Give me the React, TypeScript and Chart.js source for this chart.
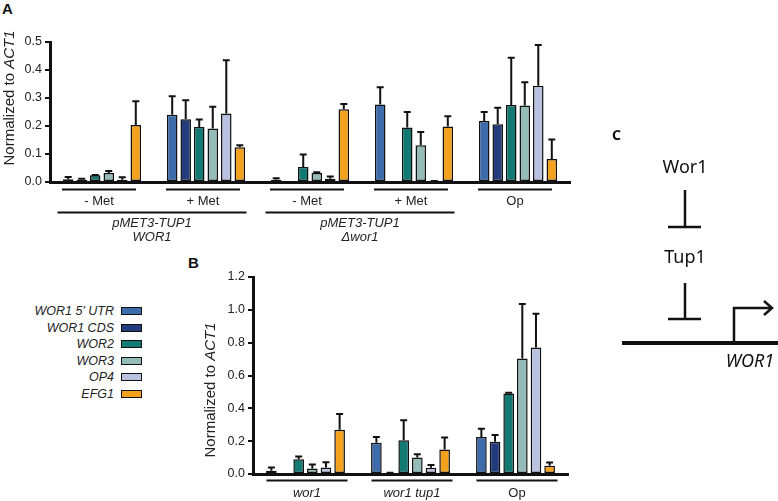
import React, { useEffect, useRef } from "react";
import { Chart, registerables } from "chart.js";

Chart.register(...registerables);

const FONT = '"Liberation Sans", Arial, Helvetica, sans-serif';
const INK = "#111";

// Series (genes) and colours
const SERIES = ["WOR1 5' UTR", "WOR1 CDS", "WOR2", "WOR3", "OP4", "EFG1"];
const COLORS = ["#3c6cab", "#233c7b", "#137a73", "#94bcb8", "#b9c2de", "#f4a21e"];

// Panel A
const A_GROUPS = ["- Met", "+ Met", "- Met", "+ Met", "Op"];
const A_SUPER = [
  { lines: ["pMET3-TUP1", "WOR1"], from: 0, to: 1 },
  { lines: ["pMET3-TUP1", "\u0394wor1"], from: 2, to: 3 },
];
const A_TICKS = [0, 0.1, 0.2, 0.3, 0.4, 0.5];
const A_UTR = [0.010, 0.240, 0.008, 0.277, 0.218];
const A_CDS = [0.008, 0.224, 0, 0, 0.206];
const A_WOR2 = [0.024, 0.196, 0.054, 0.195, 0.275];
const A_WOR3 = [0.032, 0.191, 0.032, 0.131, 0.273];
const A_OP4 = [0.008, 0.245, 0.012, 0.003, 0.344];
const A_EFG1 = [0.204, 0.124, 0.260, 0.198, 0.082];
const A_UTR_ERR = [0.008, 0.066, 0.005, 0.061, 0.032];
const A_CDS_ERR = [0.004, 0.068, 0, 0, 0.059];
const A_WOR2_ERR = [0.001, 0.027, 0.044, 0.055, 0.169];
const A_WOR3_ERR = [0.007, 0.078, 0.003, 0.048, 0.083];
const A_OP4_ERR = [0.009, 0.19, 0.008, 0.001, 0.145];
const A_EFG1_ERR = [0.084, 0.007, 0.019, 0.037, 0.07];

// Panel B
const B_GROUPS = ["wor1", "wor1 tup1", "Op"];
const B_ITALIC = [true, true, false];
const B_TICKS = [0, 0.2, 0.4, 0.6, 0.8, 1.0, 1.2];
const B_UTR = [0.020, 0.190, 0.226];
const B_CDS = [0.003, 0.005, 0.196];
const B_WOR2 = [0.090, 0.206, 0.490];
const B_WOR3 = [0.034, 0.100, 0.703];
const B_OP4 = [0.040, 0.038, 0.770];
const B_EFG1 = [0.270, 0.150, 0.050];
const B_UTR_ERR = [0.020, 0.036, 0.049];
const B_CDS_ERR = [0, 0.003, 0.042];
const B_WOR2_ERR = [0.017, 0.121, 0.005];
const B_WOR3_ERR = [0.024, 0.020, 0.332];
const B_OP4_ERR = [0.032, 0.017, 0.206];
const B_EFG1_ERR = [0.095, 0.072, 0.020];

function errorBars(errs: number[][]) {
  return {
    id: "errbars",
    afterDatasetsDraw(chart: any) {
      const ctx = chart.ctx;
      const ys = chart.scales.y;
      ctx.save();
      ctx.strokeStyle = INK;
      ctx.lineWidth = 2;
      chart.data.datasets.forEach((ds: any, i: number) => {
        const meta = chart.getDatasetMeta(i);
        meta.data.forEach((el: any, j: number) => {
          const v = ds.data[j] as number;
          const e = errs[i][j];
          if (!e || e <= 0) return;
          const x = el.x;
          const y0 = ys.getPixelForValue(v);
          const y1 = ys.getPixelForValue(v + e);
          ctx.beginPath();
          ctx.moveTo(x, y0);
          ctx.lineTo(x, y1);
          ctx.moveTo(x - 3.5, y1);
          ctx.lineTo(x + 3.5, y1);
          ctx.stroke();
        });
      });
      ctx.restore();
    },
  };
}

function drawTitle(ctx: CanvasRenderingContext2D, x: number, cy: number, size: number) {
  ctx.save();
  ctx.translate(x, cy);
  ctx.rotate(-Math.PI / 2);
  const f1 = `${size}px ${FONT}`;
  const f2 = `italic ${size}px ${FONT}`;
  ctx.font = f1;
  const w1 = ctx.measureText("Normalized to ").width;
  ctx.font = f2;
  const w2 = ctx.measureText("ACT1").width;
  const start = -(w1 + w2) / 2;
  ctx.textBaseline = "middle";
  ctx.textAlign = "left";
  ctx.fillStyle = "#222";
  ctx.font = f1;
  ctx.fillText("Normalized to ", start, 0);
  ctx.font = f2;
  ctx.fillText("ACT1", start + w1, 0);
  ctx.restore();
}

function makeDatasets(vals: number[][]) {
  return vals.map((d, i) => ({
    label: SERIES[i],
    data: d,
    backgroundColor: COLORS[i],
    borderColor: INK,
    borderWidth: 1.5,
    borderSkipped: false as any,
    categoryPercentage: 0.78,
    barPercentage: 0.78,
  }));
}

function axisOpts(min: number, max: number, step: number, yWidth: number, xHeight: number) {
  return {
    x: {
      type: "category" as const,
      grid: { display: false },
      border: { display: true, color: INK, width: 3 },
      ticks: { display: false },
      afterFit: (s: any) => {
        s.height = xHeight;
      },
    },
    y: {
      min,
      max,
      ticks: {
        stepSize: step,
        callback: (v: any) => Number(v).toFixed(1),
        color: "#222",
        font: { family: FONT, size: 12.5 },
        padding: 3,
      },
      grid: { display: true, drawOnChartArea: false, drawTicks: true, tickLength: 5, color: INK, lineWidth: 2 },
      border: { display: true, color: INK, width: 3 },
      afterFit: (s: any) => {
        s.width = yWidth;
      },
    },
  };
}

export default function App() {
  const aRef = useRef<HTMLCanvasElement>(null);
  const bRef = useRef<HTMLCanvasElement>(null);

  useEffect(() => {
    document.body.style.margin = "0";
    const aVals = [A_UTR, A_CDS, A_WOR2, A_WOR3, A_OP4, A_EFG1];
    const aErrs = [A_UTR_ERR, A_CDS_ERR, A_WOR2_ERR, A_WOR3_ERR, A_OP4_ERR, A_EFG1_ERR];
    const bVals = [B_UTR, B_CDS, B_WOR2, B_WOR3, B_OP4, B_EFG1];
    const bErrs = [B_UTR_ERR, B_CDS_ERR, B_WOR2_ERR, B_WOR3_ERR, B_OP4_ERR, B_EFG1_ERR];

    const aLabels = {
      id: "aLabels",
      afterDraw(chart: any) {
        const ctx = chart.ctx;
        const xs = chart.scales.x;
        ctx.save();
        ctx.strokeStyle = INK;
        ctx.fillStyle = "#222";
        ctx.lineWidth = 2;
        ctx.textAlign = "center";
        ctx.textBaseline = "middle";
        A_GROUPS.forEach((g, i) => {
          const cx = xs.getPixelForValue(i) - 3;
          ctx.beginPath();
          ctx.moveTo(cx - 37, 189.5);
          ctx.lineTo(cx + 37, 189.5);
          ctx.stroke();
          ctx.font = `13px ${FONT}`;
          ctx.fillText(g, cx, 201.5);
        });
        A_SUPER.forEach((s) => {
          const cx = (xs.getPixelForValue(s.from) + xs.getPixelForValue(s.to)) / 2 - 2;
          ctx.beginPath();
          ctx.moveTo(cx - 94.5, 212.5);
          ctx.lineTo(cx + 94.5, 212.5);
          ctx.stroke();
          ctx.font = `italic 13px ${FONT}`;
          s.lines.forEach((t, k) => ctx.fillText(t, cx, 223.5 + k * 14));
        });
        ctx.restore();
        drawTitle(ctx, 10, 98, 15);
      },
    };

    const bLabels = {
      id: "bLabels",
      afterDraw(chart: any) {
        const ctx = chart.ctx;
        const xs = chart.scales.x;
        ctx.save();
        ctx.strokeStyle = INK;
        ctx.fillStyle = "#222";
        ctx.lineWidth = 2;
        ctx.textAlign = "center";
        ctx.textBaseline = "middle";
        B_GROUPS.forEach((g, i) => {
          const cx = xs.getPixelForValue(i) + 1.5;
          ctx.beginPath();
          ctx.moveTo(cx - 40.5, 230.5);
          ctx.lineTo(cx + 40.5, 230.5);
          ctx.stroke();
          ctx.font = `${B_ITALIC[i] ? "italic " : ""}13px ${FONT}`;
          ctx.fillText(g, cx, 243.5);
        });
        ctx.restore();
        drawTitle(ctx, 21, 140, 15);
      },
    };

    const a = new Chart(aRef.current!, {
      type: "bar",
      data: { labels: A_GROUPS, datasets: makeDatasets(aVals) },
      options: {
        animation: false,
        responsive: false,
        devicePixelRatio: 1,
        layout: { padding: { left: 0, top: 42, right: 10, bottom: 0 } },
        plugins: { legend: { display: false }, tooltip: { enabled: false } },
        scales: axisOpts(A_TICKS[0], A_TICKS[A_TICKS.length - 1], 0.1, 50, 68) as any,
      },
      plugins: [errorBars(aErrs), aLabels],
    });

    const b = new Chart(bRef.current!, {
      type: "bar",
      data: { labels: B_GROUPS, datasets: makeDatasets(bVals) },
      options: {
        animation: false,
        responsive: false,
        devicePixelRatio: 1,
        layout: { padding: { left: 0, top: 27, right: 7, bottom: 0 } },
        plugins: { legend: { display: false }, tooltip: { enabled: false } },
        scales: axisOpts(B_TICKS[0], B_TICKS[B_TICKS.length - 1], 0.2, 63, 27) as any,
      },
      plugins: [errorBars(bErrs), bLabels],
    });

    return () => {
      a.destroy();
      b.destroy();
    };
  }, []);

  const legendY = [311, 327.5, 344, 360.5, 377, 393.5];

  return (
    <div style={{ position: "relative", width: 778, height: 501, overflow: "hidden", background: "#fff", fontFamily: FONT }}>
      <div style={{ position: "absolute", left: 2, top: 0, fontWeight: "bold", fontSize: 15, color: "#111" }}>A</div>
      <div style={{ position: "absolute", left: 188, top: 254, fontWeight: "bold", fontSize: 15, color: "#111" }}>B</div>

      <canvas ref={aRef} width={580} height={250} style={{ position: "absolute", left: 0, top: 0 }} />
      <canvas ref={bRef} width={385} height={251} style={{ position: "absolute", left: 190, top: 250 }} />

      {SERIES.map((s, i) => (
        <div key={s}>
          <div
            style={{
              position: "absolute",
              right: 778 - 114,
              top: legendY[i] - 8,
              height: 16,
              lineHeight: "16px",
              fontStyle: "italic",
              fontSize: 12.5,
              color: "#222",
              whiteSpace: "nowrap",
            }}
          >
            {s}
          </div>
          <div
            style={{
              position: "absolute",
              left: 121,
              top: legendY[i] - 4,
              width: 21,
              height: 8,
              boxSizing: "border-box",
              border: "1.5px solid #111",
              background: COLORS[i],
            }}
          />
        </div>
      ))}

      <svg width={778} height={501} style={{ position: "absolute", left: 0, top: 0, pointerEvents: "none" }}>
        <text x={612} y={140} fontFamily='"Noto Sans", sans-serif' fontWeight="bold" fontSize={14} fill="#111">
          C
        </text>
        <text x={685} y={173} textAnchor="middle" fontFamily='"Noto Sans", sans-serif' fontSize={18} fill="#111">
          Wor1
        </text>
        <g stroke="#111" strokeWidth={2.5} fill="none">
          <line x1={685} y1={190} x2={685} y2={227} />
          <line x1={668} y1={227} x2={701} y2={227} />
          <line x1={685} y1={283} x2={685} y2={319} />
          <line x1={668} y1={319} x2={701} y2={319} />
          <polyline points="734,343 734,308 772,308" />
          <polyline points="764,301 772,308 764,315" />
        </g>
        <text x={685} y={263} textAnchor="middle" fontFamily='"Noto Sans", sans-serif' fontSize={18} fill="#111">
          Tup1
        </text>
        <line x1={622} y1={343} x2={778} y2={343} stroke="#111" strokeWidth={4} />
        <text x={750} y={367} textAnchor="middle" fontFamily='"Noto Sans", sans-serif' fontStyle="italic" fontSize={18} fill="#111">
          WOR1
        </text>
      </svg>
    </div>
  );
}
